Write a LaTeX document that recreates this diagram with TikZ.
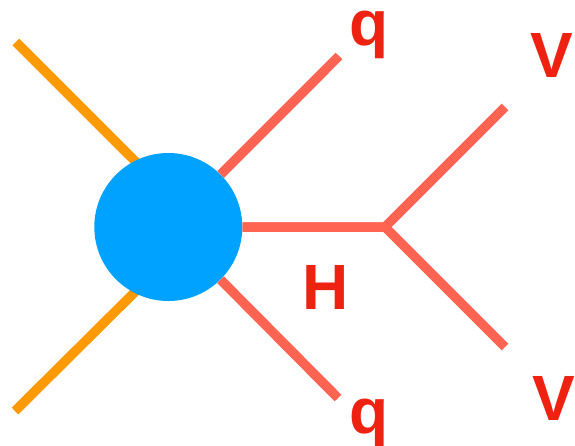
\documentclass[tikz,border=0pt]{standalone}
\usepackage{fontspec}
\setmainfont{Liberation Sans}
\definecolor{legorange}{HTML}{FF9900}
\definecolor{legred}{HTML}{FF6452}
\definecolor{blobblue}{HTML}{00A2FF}
\definecolor{labelred}{HTML}{EE2211}
\tikzset{
  ext/.style={line width=9.5pt, line cap=butt},
  gluon/.style={ext, draw=legorange},
  quark/.style={ext, draw=legred, line join=miter},
  lbl/.style={text=labelred, font=\fontsize{64}{64}\selectfont\bfseries, anchor=base, inner sep=0pt},
  smalllbl/.style={lbl, text height=0.53em, text depth=0.18em},
}
\begin{document}
\begin{tikzpicture}[x=1pt, y=-1pt]
  \useasboundingbox (0,0) rectangle (575,445);
  % incoming legs (ending under the blob)
  \coordinate (ina) at (15.8,42);
  \coordinate (inb) at (15,411);
  \coordinate (ina2) at (150,176);
  \coordinate (inb2) at (150,277);
  \draw[gluon] (ina) -- (ina2);
  \draw[gluon] (inb) -- (inb2);
  % effective vertex
  \node[circle, fill=blobblue, minimum size=148pt, inner sep=0pt] (blob) at (168.3,227) {};
  % outgoing quarks and Higgs
  \coordinate (qa) at (339,56);
  \coordinate (qb) at (338,398);
  \coordinate (j) at (385,227);
  \coordinate (va) at (505,107);
  \coordinate (vb) at (505,347);
  \draw[quark] (blob) -- (qa);
  \draw[quark] (blob) -- (qb);
  \draw[quark] (blob) -- (j) -- (va);
  \draw[quark] (blob) -- (j) -- (vb);
  % labels
  \node[smalllbl] (lqa) at (369.5,45) {q};
  \node[smalllbl] (lqb) at (369.5,433) {q};
  \node[lbl] (lva) at (551.5,77) {V};
  \node[lbl] (lvb) at (554,420) {V};
  \node[lbl] (lh) at (325.5,309) {H};
\end{tikzpicture}
\end{document}
